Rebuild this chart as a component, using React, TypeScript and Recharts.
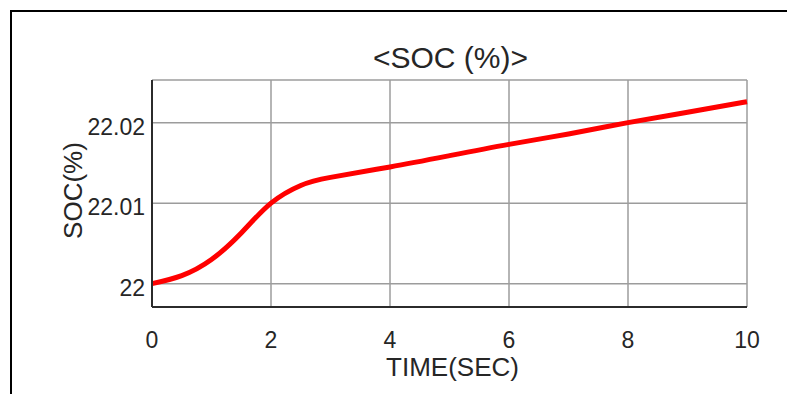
import React from 'react';
import { CartesianGrid, Line, LineChart, XAxis, YAxis } from 'recharts';

// SOC trace (time in s, SOC in %)
const time = [0, 0.5, 1, 1.5, 2, 2.5, 3, 4, 5, 6, 7, 8, 9, 10];
const soc = [22.0, 22.001, 22.003, 22.0063, 22.01, 22.0122, 22.0132, 22.0145, 22.0159, 22.0173, 22.0186, 22.02, 22.0213, 22.0226];

const xTicks = [0, 2, 4, 6, 8, 10];
const yTicks = [22, 22.01, 22.02];
const yTickLabels = ['22', '22.01', '22.02'];
const yDomain = [21.9971, 22.0253];

const title = '<SOC (%)>';
const xTitle = 'TIME(SEC)';
const yTitle = 'SOC(%)';

const data = time.map((t, i) => ({ t, soc: soc[i] }));

const FONT = '"Liberation Sans", Arial, Helvetica, sans-serif';
const TEXT = '#262626';
const AXIS = '#2b2b2b';

const XTick = ({ x, y, payload }: any) => (
  <text x={x} y={y + 33} textAnchor="middle" fontFamily={FONT} fontSize={23} fill={TEXT}>
    {payload.value}
  </text>
);

const YTick = ({ x, y, payload }: any) => {
  const i = yTicks.findIndex((v) => Math.abs(v - payload.value) < 1e-9);
  return (
    <text x={x} y={y + 12} textAnchor="end" fontFamily={FONT} fontSize={23} fill={TEXT}>
      {i >= 0 ? yTickLabels[i] : payload.value}
    </text>
  );
};

const XTitle = ({ viewBox }: any) => (
  <text
    x={viewBox.x + viewBox.width / 2 + 3}
    y={viewBox.y + 69}
    textAnchor="middle"
    fontFamily={FONT}
    fontSize={26}
    fill={TEXT}
  >
    {xTitle}
  </text>
);

const YTitle = ({ viewBox }: any) => {
  const cx = 73;
  const cy = viewBox.y + viewBox.height / 2 - 3;
  return (
    <text
      x={cx}
      y={cy}
      transform={`rotate(-90, ${cx}, ${cy})`}
      textAnchor="middle"
      dominantBaseline="central"
      fontFamily={FONT}
      fontSize={26}
      fill={TEXT}
    >
      {yTitle}
    </text>
  );
};

export default function App() {
  return (
    <div style={{ position: 'absolute', left: 0, top: 0, width: 787, height: 394, background: '#fff', overflow: 'hidden' }}>
      <div
        style={{
          position: 'absolute',
          left: 10,
          top: 10,
          width: 800,
          height: 400,
          borderLeft: '2.5px solid #000',
          borderTop: '2.5px solid #000',
        }}
      />
      <div
        style={{
          position: 'absolute',
          left: 300,
          width: 301,
          top: 43,
          textAlign: 'center',
          fontFamily: FONT,
          fontSize: 30,
          lineHeight: '30px',
          color: TEXT,
          whiteSpace: 'nowrap',
        }}
      >
        {title}
      </div>
      <div style={{ position: 'absolute', left: 0, top: 0 }}>
        <LineChart width={787} height={394} data={data} margin={{ top: 80, right: 40, left: 0, bottom: 0 }}>
          <CartesianGrid stroke="#9c9c9c" strokeWidth={1.5} />
          <XAxis
            dataKey="t"
            type="number"
            domain={[0, 10]}
            ticks={xTicks}
            height={87}
            axisLine={{ stroke: AXIS, strokeWidth: 2 }}
            tickLine={false}
            tickSize={6}
            tickMargin={2}
            tick={<XTick />}
            label={<XTitle />}
          />
          <XAxis
            xAxisId="top"
            dataKey="t"
            type="number"
            orientation="top"
            domain={[0, 10]}
            ticks={xTicks}
            height={0}
            mirror
            tick={false}
            tickSize={5}
            axisLine={{ stroke: AXIS, strokeWidth: 2 }}
            tickLine={{ stroke: AXIS, strokeWidth: 1.5 }}
          />
          <YAxis
            type="number"
            domain={yDomain}
            ticks={yTicks}
            width={152}
            axisLine={{ stroke: AXIS, strokeWidth: 2 }}
            tickLine={false}
            tickSize={6}
            tickMargin={1}
            tick={<YTick />}
            label={<YTitle />}
            allowDataOverflow
          />
          <YAxis
            yAxisId="right"
            type="number"
            orientation="right"
            domain={yDomain}
            ticks={yTicks}
            width={0}
            mirror
            tick={false}
            tickSize={5}
            axisLine={{ stroke: AXIS, strokeWidth: 2 }}
            tickLine={{ stroke: AXIS, strokeWidth: 1.5 }}
            allowDataOverflow
          />
          <Line
            type="natural"
            dataKey="soc"
            stroke="#ff0000"
            strokeWidth={5}
            dot={false}
            isAnimationActive={false}
          />
        </LineChart>
      </div>
    </div>
  );
}
